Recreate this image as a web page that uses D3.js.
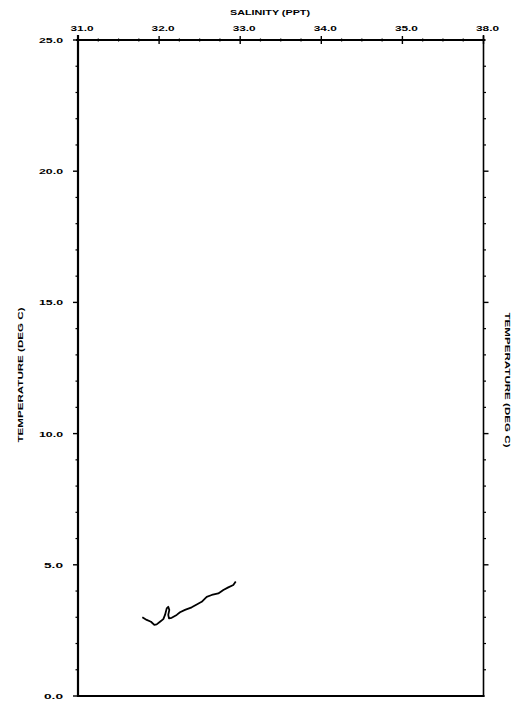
<!DOCTYPE html>
<html><head><meta charset="utf-8">
<script src="https://cdn.jsdelivr.net/npm/d3@7"></script>
<style>body{margin:0;background:#fff}svg{display:block}</style>
</head><body>
<svg id="c" width="524" height="706"></svg>
<script>
// Data (salinity PPT, temperature deg C)
const salinity = [31.793,31.847,31.900,31.941,31.970,32.011,32.052,32.073,32.094,32.113,32.126,32.113,32.122,32.155,32.217,32.258,32.319,32.402,32.464,32.525,32.587,32.649,32.730,32.792,32.853,32.915,32.945];
const temperature = [3.00,2.90,2.83,2.71,2.73,2.83,2.93,3.09,3.34,3.40,3.28,3.09,2.96,2.98,3.09,3.19,3.28,3.38,3.49,3.59,3.78,3.85,3.91,4.04,4.14,4.23,4.36];
const xTickValues = [31,32,33,34,35,36];
const xTickLabels = ["31.0","32.0","33.0","34.0","35.0","38.0"];
const yTickValues = [0,5,10,15,20,25];
const yTickLabels = ["0.0","5.0","10.0","15.0","20.0","25.0"];
const xTitle = "SALINITY (PPT)";
const yTitle = "TEMPERATURE (DEG C)";

const svg = d3.select("#c");
const x = d3.scaleLinear().domain([31,36]).range([78,483.5]);
const y = d3.scaleLinear().domain([0,25]).range([696,40]);
const font = "'Liberation Sans', Arial, sans-serif";

// frame
const g = svg.append("g").attr("stroke","#000").attr("fill","none");
g.append("line").attr("x1",x(31)-2).attr("x2",x(36)+2).attr("y1",y(25)).attr("y2",y(25)).attr("stroke-width",2);
g.append("line").attr("x1",x(31)).attr("x2",x(31)).attr("y1",y(25)-5).attr("y2",y(0)+1).attr("stroke-width",2.2);
g.append("line").attr("x1",x(36)).attr("x2",x(36)).attr("y1",y(25)-5).attr("y2",y(0)+1).attr("stroke-width",1.6);
g.append("line").attr("x1",x(31)-1).attr("x2",x(36)+1).attr("y1",y(0)).attr("y2",y(0)).attr("stroke-width",2);

// top axis minor ticks (0.25)
const xMinor = d3.range(31,36.001,0.25).filter(v=>Math.abs(v-Math.round(v))>1e-6);
g.selectAll(".xm").data(xMinor).join("line")
  .attr("x1",d=>x(d)).attr("x2",d=>x(d)).attr("y1",y(25)-1.5).attr("y2",y(25)+1.5).attr("stroke-width",1.2);
g.selectAll(".xM").data(xTickValues).join("line")
  .attr("x1",d=>x(d)).attr("x2",d=>x(d)).attr("y1",y(25)-4).attr("y2",y(25)+4).attr("stroke-width",1.4);

// y minor ticks (1.0)
const yMinor = d3.range(0,25.001,1).filter(v=>v%5!==0);
g.selectAll(".ylm").data(yMinor).join("line")
  .attr("x1",x(31)-2.5).attr("x2",x(31)).attr("y1",d=>y(d)).attr("y2",d=>y(d)).attr("stroke-width",1.2);
g.selectAll(".ylM").data(yTickValues).join("line")
  .attr("x1",x(31)-5).attr("x2",x(31)).attr("y1",d=>y(d)).attr("y2",d=>y(d)).attr("stroke-width",1.4);
g.selectAll(".yrm").data(yMinor).join("line")
  .attr("x1",x(36)).attr("x2",x(36)+2.5).attr("y1",d=>y(d)).attr("y2",d=>y(d)).attr("stroke-width",1.2);
g.selectAll(".yrM").data(yTickValues.filter(v=>v>0 && v<25)).join("line")
  .attr("x1",x(36)).attr("x2",x(36)+5).attr("y1",d=>y(d)).attr("y2",d=>y(d)).attr("stroke-width",1.4);

// labels
const t = svg.append("g").attr("font-family",font).attr("font-weight","bold").attr("font-size",8).attr("fill","#000");
t.selectAll(".xl").data(xTickValues).join("text")
  .attr("x",d=>x(d)+4).attr("y",y(25)-9).attr("text-anchor","middle")
  .attr("textLength",23).attr("lengthAdjust","spacingAndGlyphs")
  .text((d,i)=>xTickLabels[i]);
t.selectAll(".yl").data(yTickValues).join("text")
  .attr("x",63).attr("y",d=>y(d)+3).attr("text-anchor","end")
  .attr("textLength",(d,i)=>yTickLabels[i].length>3?24:19).attr("lengthAdjust","spacingAndGlyphs")
  .text((d,i)=>yTickLabels[i]);

t.append("text").attr("x",270).attr("y",15).attr("text-anchor","middle")
  .attr("textLength",80).attr("lengthAdjust","spacingAndGlyphs").text(xTitle);
t.append("text").attr("transform","translate(23,375) rotate(-90)").attr("text-anchor","middle")
  .attr("textLength",135).attr("lengthAdjust","spacingAndGlyphs").text(yTitle);
t.append("text").attr("transform","translate(505,380) rotate(90)").attr("text-anchor","middle")
  .attr("textLength",135).attr("lengthAdjust","spacingAndGlyphs").text(yTitle);

// curve
const pts = salinity.map((s,i)=>[s,temperature[i]]);
svg.append("path").datum(pts)
  .attr("d", d3.line().x(d=>x(d[0])).y(d=>y(d[1])).curve(d3.curveLinear))
  .attr("fill","none").attr("stroke","#000").attr("stroke-width",1.8).attr("stroke-linejoin","round");
</script>
</body></html>
